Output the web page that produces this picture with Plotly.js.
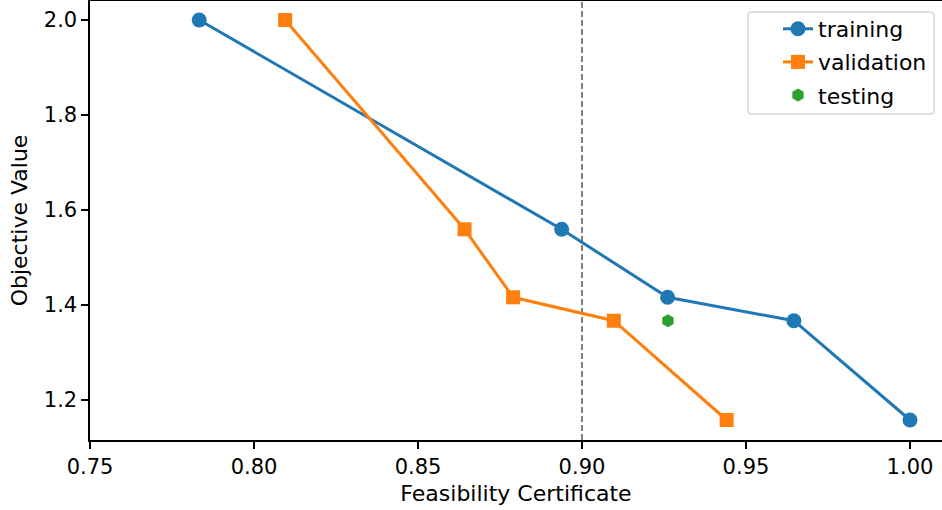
<!DOCTYPE html>
<html>
<head>
<meta charset="utf-8">
<script src="https://cdn.plot.ly/plotly-3.0.1.min.js"></script>
<style>html,body{margin:0;padding:0;background:#fff;}#chart{width:942px;height:510px;}</style>
</head>
<body>
<div id="chart"></div>
<script>
const trainX = [0.7833, 0.8938, 0.9261, 0.9646, 1.0];
const trainY = [2.0, 1.5594, 1.4162, 1.3669, 1.1579];
const valX = [0.8095, 0.8642, 0.8790, 0.9097, 0.9441];
const valY = [2.0, 1.5594, 1.4162, 1.3669, 1.1579];
const testX = [0.9262];
const testY = [1.3669];
const threshold = 0.90;
const xTicks = [0.75, 0.80, 0.85, 0.90, 0.95, 1.00];
const xTickText = ["0.75", "0.80", "0.85", "0.90", "0.95", "1.00"];
const yTicks = [1.2, 1.4, 1.6, 1.8, 2.0];
const yTickText = ["1.2", "1.4", "1.6", "1.8", "2.0"];

const tickFont = {family: "DejaVu Sans", size: 21, color: "#000"};
const titleFont = {family: "DejaVu Sans", size: 22, color: "#000"};
const data = [
  {x: trainX, y: trainY, name: "training", legendgroup: "a", mode: "lines+markers", type: "scatter",
   line: {color: "#1f77b4", width: 3}, marker: {symbol: "circle", size: 15, color: "#1f77b4"}},
  {x: valX, y: valY, name: "validation", legendgroup: "b", mode: "lines+markers", type: "scatter",
   line: {color: "#ff7f0e", width: 3}, marker: {symbol: "square", size: 14, color: "#ff7f0e"}},
  {x: testX, y: testY, name: "testing", legendgroup: "c", mode: "markers", type: "scatter",
   marker: {symbol: "hexagon", size: 13, color: "#2ca02c"}}
];
// legend frame drawn as a rounded path in paper coords
function px2x(p) { return (p - 90) / 852; }
function py2y(p) { return (440 - p) / 439; }
const bx0 = px2x(748), bx1 = px2x(934), by0 = py2y(114), by1 = py2y(12);
const rx = 4 / 852, ry = 4 / 439;
const boxPath = `M ${bx0 + rx} ${by1} L ${bx1 - rx} ${by1} Q ${bx1} ${by1} ${bx1} ${by1 - ry} ` +
  `L ${bx1} ${by0 + ry} Q ${bx1} ${by0} ${bx1 - rx} ${by0} L ${bx0 + rx} ${by0} ` +
  `Q ${bx0} ${by0} ${bx0} ${by0 + ry} L ${bx0} ${by1 - ry} Q ${bx0} ${by1} ${bx0 + rx} ${by1} Z`;

const layout = {
  width: 942, height: 510,
  margin: {l: 90, r: 0, t: 1, b: 70},
  paper_bgcolor: "#fff", plot_bgcolor: "#fff",
  font: tickFont,
  showlegend: true,
  legend: {x: px2x(778), y: py2y(8), xanchor: "left", yanchor: "top",
           bgcolor: "rgba(0,0,0,0)", borderwidth: 0,
           font: titleFont, tracegroupgap: 1.5},
  xaxis: {range: [0.75, 1.00976], tickvals: xTicks, ticktext: xTickText, tickfont: tickFont,
          showgrid: false, zeroline: false, showline: true, linecolor: "#000", linewidth: 1.6,
          mirror: true, ticks: "outside", ticklen: 7, tickwidth: 1.6, tickcolor: "#000",
          title: {text: "Feasibility Certificate", font: titleFont, standoff: 8}},
  yaxis: {range: [1.1158, 2.04], tickvals: yTicks, ticktext: yTickText, tickfont: tickFont,
          showgrid: false, zeroline: false, showline: true, linecolor: "#000", linewidth: 1.6,
          ticks: "outside", ticklen: 7, tickwidth: 1.6, tickcolor: "#000",
          title: {text: "Objective Value", font: titleFont, standoff: 10}},
  shapes: [
    {type: "line", xref: "x", yref: "paper", x0: threshold, x1: threshold, y0: 0, y1: 1,
     line: {color: "#808080", width: 2, dash: "6px,3px"}, layer: "below"},
    {type: "path", xref: "paper", yref: "paper", path: boxPath,
     fillcolor: "rgba(255,255,255,0.8)", line: {color: "#d6d6d6", width: 1.5}, layer: "above"}
  ]
};
Plotly.newPlot("chart", data, layout, {displayModeBar: false, staticPlot: true});
</script>
</body>
</html>
